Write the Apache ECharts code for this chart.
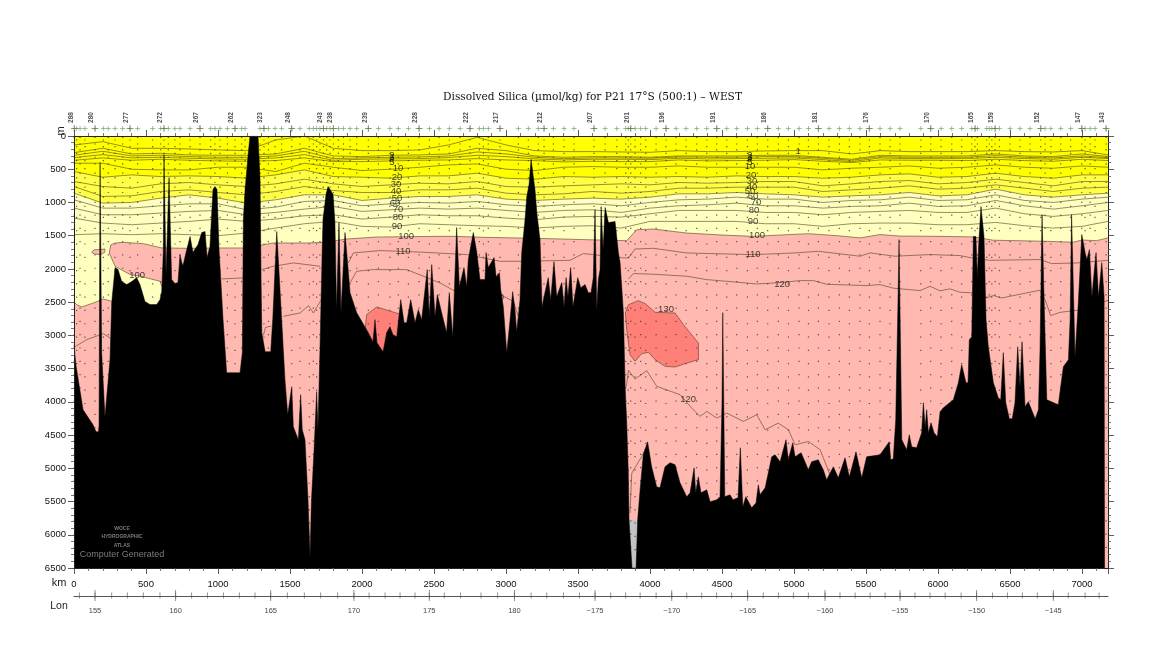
<!DOCTYPE html>
<html>
<head>
<meta charset="utf-8">
<title>Dissolved Silica P21</title>
<script src="https://cdn.jsdelivr.net/npm/echarts@6/dist/echarts.min.js"></script>
<style>html,body{margin:0;background:#fff}#main{width:1150px;height:650px}</style>
</head>
<body>
<div id="main"></div>
<script>
// sea floor, km along track and depth in m
const bathyKm = [0,14,63,132,153,170,174,181,188,192,215,227,250,262,285,306,331,366,401,435,458,493,528,574,597,609,620,625,632,639,649,660,667,678,701,722,736,748,757,783,806,826,861,887,910,924,944,965,979,993,1007,1035,1060,1153,1169,1176,1188,1208,1222,1278,1292,1299,1304,1327,1366,1380,1408,1442,1465,1484,1512,1523,1558,1574,1585,1604,1625,1639,1649,1667,1685,1694,1708,1722,1729,1750,1764,1778,1799,1812,1823,1840,1854,1882,1917,1963,2032,2076,2090,2104,2146,2171,2194,2215,2241,2269,2292,2310,2338,2368,2391,2414,2453,2467,2484,2507,2523,2553,2587,2606,2630,2657,2676,2708,2727,2738,2773,2797,2819,2854,2861,2877,2917,2931,2954,2963,2981,3005,3028,3046,3062,3074,3097,3109,3132,3144,3160,3174,3184,3201,3215,3236,3239,3250,3264,3293,3310,3333,3352,3387,3403,3417,3430,3449,3465,3498,3519,3549,3571,3590,3606,3618,3625,3630,3641,3653,3660,3667,3674,3688,3711,3757,3780,3792,3815,3827,3838,3849,3854,3875,3903,3914,3931,3953,3983,4011,4046,4069,4104,4139,4174,4208,4255,4278,4306,4317,4335,4354,4394,4417,4463,4486,4500,4505,4510,4519,4555,4576,4611,4627,4632,4644,4665,4706,4736,4752,4764,4799,4845,4868,4903,4944,4960,4991,5007,5049,5099,5122,5168,5203,5226,5273,5307,5354,5384,5430,5470,5504,5597,5661,5671,5689,5706,5722,5729,5735,5748,5782,5800,5817,5851,5886,5898,5910,5921,5933,5951,5972,5995,6014,6037,6106,6141,6164,6194,6208,6217,6234,6245,6263,6272,6284,6298,6305,6319,6333,6349,6384,6418,6435,6453,6470,6495,6515,6534,6553,6569,6583,6604,6627,6674,6697,6708,6722,6729,6736,6755,6835,6870,6905,6917,6927,6934,6951,6963,6974,6998,7021,7033,7051,7068,7097,7114,7137,7153,7156];
const bathyDepth = [3140,3456,4119,4345,4450,4450,4345,399,399,3260,4224,4224,3366,2507,1980,2010,2191,2236,2191,2131,2236,2492,2537,2537,2462,2342,1754,279,279,2086,2086,625,625,2161,2221,2206,1785,1905,1950,1709,1513,1754,1634,1453,1438,1830,1664,806,761,806,1709,2763,3562,3562,3260,1257,806,309,0,0,655,2161,2959,3245,3245,2763,1438,2763,3667,4194,3773,4375,4570,3893,4420,4570,5474,6333,5474,4721,3848,4420,3215,1860,1257,881,761,806,881,1303,2613,1303,2643,1453,2357,2658,2914,3095,2763,3110,3245,2959,2869,2989,3019,2462,2809,2809,2462,2809,2613,2763,2010,2718,1935,2718,2387,2658,2959,2357,3019,1378,2266,1980,2266,1860,1453,1754,2161,2161,1754,1980,1830,2116,2056,2312,2568,3260,2763,2342,2613,2944,2462,1754,1257,911,730,354,354,806,1182,1559,1754,2568,2417,2131,2462,1890,2417,2206,2568,2131,2417,1980,2568,2131,2282,2236,2357,2357,2131,1107,1107,2613,2161,2010,1062,1062,1709,1077,1303,1288,1754,1905,2658,3773,4315,5068,5775,6500,6500,5775,5323,4796,4601,4977,5279,5294,4977,4917,4947,5218,5429,5369,4992,5369,5128,5369,5324,5504,5474,5429,3968,2658,2658,5429,5399,5474,5444,4691,4691,5579,5429,5595,5520,5248,5399,5294,4827,4796,4902,4571,4872,4616,4827,4766,5023,4902,4872,5023,5173,4977,5143,4842,5128,4751,5143,4827,4797,4601,4872,4857,4270,2462,1559,1559,4570,4721,4495,4676,4691,4465,4013,4375,4119,4465,4315,4465,4525,4149,4089,3968,3712,3441,3712,3712,3065,3020,1514,1514,2116,1559,1062,1062,1514,2763,3170,3712,3938,3968,3260,4013,4254,4254,4013,3170,3773,3095,4073,3998,4254,4119,3215,1182,1182,2462,3968,4043,3471,3366,2763,1182,1182,3320,3320,2507,1483,1754,1860,1709,2417,1754,2417,1905,2417,6500];

// silica contours, sampled on one km grid (m)
const contourKm = [0,200,400,600,800,1000,1200,1400,1600,1800,2000,2200,2400,2600,2800,3000,3200,3400,3600,3800,4000,4200,4400,4600,4800,5000,5200,5400,5600,5800,6000,6200,6400,6600,6800,7000,7180];
const c1 = [135,85,185,185,195,210,220,60,0,185,220,220,210,135,20,135,220,235,235,240,245,220,235,235,225,220,220,270,220,235,235,235,220,235,240,220,285];
const c2 = [250,185,270,260,285,290,290,270,185,300,310,290,285,270,185,220,300,320,310,310,320,300,300,300,290,290,320,350,290,300,300,300,270,300,310,270,310];
const c3 = [290,230,300,290,310,320,320,300,230,340,330,320,315,300,240,270,320,340,330,330,335,315,320,320,310,310,335,365,310,320,320,320,295,320,330,300,325];
const c4 = [325,280,330,320,335,345,350,330,280,365,350,345,340,325,290,310,345,360,350,350,355,335,345,340,335,330,355,385,330,340,340,340,320,340,350,320,340];
const c5 = [365,330,365,350,365,375,380,370,330,385,385,375,365,360,340,360,370,390,380,385,385,360,375,370,365,355,380,400,360,365,365,370,350,370,380,350,370];
const c10 = [410,410,500,510,510,470,470,535,410,470,520,500,470,435,420,500,520,470,460,470,470,450,470,470,470,470,510,485,470,450,485,470,435,470,485,450,470];
const c20 = [535,620,585,610,600,610,635,585,510,610,620,635,600,600,560,635,650,610,620,610,620,610,620,600,610,610,635,620,585,570,620,610,560,610,635,585,585];
const c30 = [685,760,785,720,700,735,760,720,650,720,760,735,710,720,685,760,770,750,735,720,735,700,710,700,685,685,750,720,685,670,720,700,650,700,750,685,685];
const c40 = [760,910,900,835,810,850,885,835,760,820,850,850,810,810,785,860,885,870,835,860,835,785,785,770,770,770,835,810,785,750,800,785,735,785,835,785,770];
const c50 = [860,1010,1000,935,885,935,1010,960,885,885,970,935,910,910,885,950,970,950,935,950,920,870,870,850,870,885,920,900,885,850,900,885,800,885,920,885,860];
const c60 = [960,1085,1085,1050,1020,1020,1110,1070,985,970,1050,1020,1000,1010,985,1035,1060,1035,1020,1050,1000,960,950,920,950,950,1000,970,960,920,970,960,885,970,1000,950,920];
const c70 = [1085,1185,1185,1160,1135,1120,1185,1150,1100,1060,1135,1110,1085,1100,1085,1120,1150,1120,1110,1150,1085,1050,1035,1010,1050,1050,1085,1060,1050,1010,1060,1050,970,1050,1100,1050,1000];
const c80 = [1235,1310,1335,1310,1285,1250,1285,1250,1200,1185,1250,1220,1185,1200,1200,1235,1260,1220,1210,1220,1170,1120,1120,1120,1150,1150,1185,1150,1135,1120,1150,1150,1085,1170,1210,1170,1120];
const c90 = [1485,1470,1485,1470,1485,1500,1460,1385,1320,1285,1360,1370,1320,1335,1350,1360,1385,1360,1350,1385,1285,1285,1285,1285,1320,1320,1360,1320,1310,1310,1335,1335,1300,1350,1385,1360,1285];

// 100 contour, top of the pink water
const c100Km = [0,255,285,343,482,609,800,1012,1197,1304,1382,1613,1750,1891,2100,2300,2528,2635,2850,3097,3300,3560,3838,3908,4024,4255,4500,4718,4950,5100,5300,5458,5597,5730,6000,6245,6384,6731,6939,7000,7100,7180];
const c100Depth = [1640,1640,1610,1600,1620,1684,1690,1685,1685,1640,1610,1610,1600,1550,1520,1515,1510,1510,1525,1535,1545,1560,1575,1410,1400,1460,1490,1510,1485,1470,1500,1533,1483,1505,1510,1518,1568,1583,1598,1565,1575,1533];

// the rest of the contours are short pieces: [km, m]
const pocket100 = [[255,1640],[245,1760],[285,1960],[389,2085],[459,2110],[597,2186],[609,2261]];
const west100 = [[0,2500],[19,2537],[54,2572],[135,2512],[204,2452],[262,2487]];
const bubble100 = [[123,1750],[140,1710],[175,1710],[215,1700],[213,1750],[185,1785],[140,1775]];
const palePocket = [[0,1500],[240,1500],[255,1640],[245,1760],[285,1960],[389,2085],[459,2110],[597,2186],[609,2261],[612,3000],[300,3000],[262,2487],[204,2452],[135,2512],[54,2572],[19,2537],[0,2500]];
const west110 = [[0,3180],[30,3140],[88,3064],[204,2974],[250,3040]];
const mid110a = [[1026,2150],[1176,2135]];
const mid110b = [[1304,2010],[1385,1960],[1524,1910],[1709,1960]];
const main110 = [[1905,1910],[1940,1759],[2125,1724],[2426,1749],[2727,1784],[2958,1885],[3120,1885],[3444,1870],[3537,1769],[3815,1834],[3850,1835],[3896,1700],[4024,1690],[4255,1760],[4718,1785],[5000,1760],[5169,1735],[5458,1809],[5527,1759],[5700,1809],[5944,1784],[6152,1799],[6235,1835],[6360,1870],[6708,1859],[6789,1920],[6963,1910],[7180,1870]];
const west120 = [[1454,2713],[1570,2663],[1628,2552],[1662,2663],[1720,2452]];
const main120a = [[1916,2211],[1963,2035],[2078,2010],[2310,2010],[2426,2110],[2542,2211],[2634,2321],[2958,2386],[3051,2487],[3085,2713]];
const main120b = [[3850,2150],[3885,2070],[4024,2080],[4255,2110],[4394,2161],[4533,2186],[4741,2226],[4880,2210],[5042,2176],[5135,2176],[5227,2231],[5505,2251],[5597,2236],[5690,2290],[5875,2326],[5944,2261],[6014,2330],[6083,2300],[6152,2351],[6250,2361],[6338,2437],[6384,2400],[6442,2437],[6615,2361],[6708,2321],[6743,2462],[6782,2703],[6847,2653],[6963,2623],[7183,2472]];
const deep120 = [[3835,3770],[3850,3526],[3896,3657],[3977,3531],[4047,3767],[4209,3893],[4290,4094],[4347,4219],[4394,4144],[4463,4244],[4533,4169],[4648,4294],[4741,4194],[4799,4420],[4891,4320],[4961,4420],[5007,4646],[5100,4596],[5181,4721],[5250,5098]];
const low120 = [[3861,5675],[3873,5073],[3942,4822],[3970,4700]];
const small110 = [[1315,3000],[1330,2880],[1370,2860]];
const red130 = [[3829,2663],[3850,2538],[3919,2477],[3966,2522],[4035,2653],[4174,2663],[4232,2839],[4336,3115],[4336,3366],[4255,3416],[4174,3476],[4105,3466],[4035,3366],[3989,3255],[3942,3275],[3896,3391],[3861,3291],[3838,2914]];
const redWest130 = [[2032,2688],[2102,2572],[2275,2688],[2290,3300],[2040,3300],[2020,2950]];
const greyFloor = [[3850,5775],[3920,5775],[3920,6500],[3850,6500]];

// contour labels
const labelKm = [2208,2208,2208,2208,2250,2243,2236,2236,2243,2229,2250,2250,2243,2306,2285,4694,4694,4694,4694,4694,4701,4708,4708,4694,4715,4736,4722,4715,4743,4715,5028,438,4917,4264,4111];
const labelDepth = [294,324,354,399,489,625,730,836,941,1017,1107,1227,1363,1514,1740,294,324,354,399,459,587,685,768,836,911,1002,1122,1288,1499,1785,233,2103,2229,3969,2605];
const labelText = ['2','3','4','5','10','20','30','40','50','60','70','80','90','100','110','2','3','4','5','10','20','30','40','50','60','70','80','90','100','110','1','100','120','120','130'];

// atlas stamp in the sea floor
const stampLines = ['WOCE', 'HYDROGRAPHIC', 'ATLAS'];
const stampDepth = [5904, 6031, 6167];

// stations along the top
const stationKm = [2,18,42,76,146,204,238,285,338,389,442,546,602,625,655,701,736,806,875,949,979,1014,1065,1118,1164,1188,1292,1319,1350,1396,1442,1512,1569,1634,1662,1685,1708,1732,1755,1778,1801,1836,1871,1917,1963,2044,2114,2194,2252,2322,2396,2468,2535,2606,2681,2750,2815,2843,2877,2958,3086,3155,3224,3264,3329,3403,3472,3611,3688,3769,3831,3849,3866,3896,3935,3970,4042,4111,4181,4250,4324,4394,4463,4533,4602,4676,4745,4817,4891,4961,5035,5100,5169,5243,5315,5384,5458,5523,5597,5667,5736,5880,5949,6021,6095,6164,6234,6257,6273,6338,6356,6373,6396,6426,6500,6569,6639,6713,6743,6783,6852,6921,6998,7021,7056,7090,7167];
const namedStationKm = [2,146,389,625,875,1118,1319,1512,1732,1801,2044,2396,2750,2958,3264,3611,3866,4111,4463,4817,5169,5523,5949,6257,6396,6713,6998,7167];
const namedStations = ['288','280','277','272','267','262','323','248','243','238','239','228','222','217','212','207','201','196','191','186','181','176','170','165','159','152','147','143'];

// bottle depths, stations alternate between the two lists
const bottlesA = [20,120,210,320,420,560,700,850,1000,1190,1390,1590,1790,1990,2190,2390,2590,2790,2990,3190,3390,3590,3790,3990,4190,4390,4590,4790,4990,5190,5390,5590,5790,5990,6190];
const bottlesB = [60,160,260,370,490,630,770,920,1060,1225,1425,1625,1825,2025,2225,2425,2625,2825,3025,3225,3425,3625,3825,4025,4225,4425,4625,4825,5025,5225,5425,5625,5825,6025,6225];

// longitude axis
const lonKm = [37,146,262,370,481,597,706,817,926,1037,1148,1257,1366,1481,1599,1713,1831,1944,2049,2160,2264,2368,2467,2571,2685,2826,2942,3058,3174,3283,3398,3509,3618,3727,3831,3931,4042,4151,4255,4359,4463,4567,4678,4786,4891,4995,5099,5215,5319,5424,5528,5632,5736,5840,5944,6049,6160,6268,6377,6481,6585,6689,6800,6904,7021,7118];
const lonMajorKm = [146,706,1366,1944,2467,3058,3618,4151,4678,5215,5736,6268,6800];
const lonLabels = ['155','160','165','170','175','180','\u2212175','\u2212170','\u2212165','\u2212160','\u2212155','\u2212150','\u2212145'];

const FONT = '"Liberation Sans"';
const LINE = 'rgba(70,55,25,0.8)';

const chart = echarts.init(document.getElementById('main'));

function zip(xs, ys) {
  return xs.map(function (x, i) { return [x, ys[i]]; });
}

function areaSeries(data, color, z) {
  return {
    type: 'line', data: data, z: z, silent: true, symbol: 'none',
    lineStyle: { width: 0 },
    areaStyle: { color: color, opacity: 1, origin: 'end' }
  };
}

function contourLine(data, z) {
  return {
    type: 'line', data: data, z: z || 6, silent: true, symbol: 'none',
    lineStyle: { color: LINE, width: 0.7 }
  };
}

function polygonSeries(pts, color, z, stroke) {
  return {
    type: 'custom', coordinateSystem: 'cartesian2d', z: z, silent: true,
    data: [pts[0]],
    renderItem: function (params, api) {
      return {
        type: 'polygon',
        shape: { points: pts.map(function (p) { return api.coord(p); }) },
        style: { fill: color, stroke: stroke || null, lineWidth: 0.7 }
      };
    }
  };
}

function textSeries(data, z, size, color, weight) {
  return {
    type: 'scatter', data: data, z: z, silent: true, symbolSize: 0,
    label: {
      show: true, position: 'inside', formatter: function (p) { return p.value[2]; },
      fontFamily: FONT, fontSize: size, color: color, fontWeight: weight || 'normal'
    }
  };
}

const dots = [];
stationKm.forEach(function (km, i) {
  (i % 2 ? bottlesB : bottlesA).forEach(function (d) { dots.push([km, d]); });
});

const series = [
  areaSeries(zip(contourKm, c20), '#ffff48', 2),
  areaSeries(zip(contourKm, c50), '#ffffc0', 2.1),
  areaSeries(zip(c100Km, c100Depth), '#ffb9b0', 2.2),
  polygonSeries(palePocket, '#ffffc0', 2.3),
  polygonSeries(bubble100, '#ffb9b0', 2.4, LINE),
  polygonSeries(red130, '#ff8078', 2.5, LINE),
  polygonSeries(redWest130, '#ff8078', 2.5, LINE),
  polygonSeries(greyFloor, '#c4c4c4', 2.6),
  {
    type: 'scatter', data: dots, z: 5, silent: true, symbol: 'rect', symbolSize: 1.2,
    itemStyle: { color: '#333' }
  }
];
[c1, c2, c3, c4, c5, c10, c20, c30, c40, c50, c60, c70, c80, c90].forEach(function (c) {
  series.push(contourLine(zip(contourKm, c)));
});
series.push(contourLine(zip(c100Km, c100Depth).slice(1)));
[pocket100, west100, west110, mid110a, mid110b, main110, west120, main120a, main120b, deep120, low120, small110].forEach(function (c) {
  series.push(contourLine(c));
});

// a 120 label mostly hidden behind the ridge
series.push(textSeries([[2931, 2432, '120']], 7, 9.5, '#111'));

series.push({
  type: 'line', data: zip(bathyKm, bathyDepth), z: 10, silent: true, symbol: 'none',
  lineStyle: { color: '#000', width: 0.5 },
  areaStyle: { color: '#000', opacity: 1, origin: 'end' }
});

series.push(textSeries(labelKm.map(function (km, i) { return [km, labelDepth[i], labelText[i]]; }), 12, 9.5, '#111'));
series.push(textSeries(stampLines.map(function (t, i) { return [333, stampDepth[i], t]; }), 12, 5, '#9a9a9a', 'bold'));
series.push(textSeries([[333, 6303, 'Computer Generated']], 12, 9, '#9a9a9a'));

// stations
series.push({
  type: 'scatter', xAxisIndex: 2, yAxisIndex: 2, silent: true,
  data: stationKm.map(function (km) { return [km, 0.5]; }),
  symbol: 'path://M5 0V10M0 5H10', symbolSize: 5,
  itemStyle: { color: 'none', borderColor: '#5fa35f', borderWidth: 0.8 }
});
series.push({
  type: 'scatter', xAxisIndex: 2, yAxisIndex: 2, silent: true,
  data: namedStationKm.map(function (km, i) { return [km, 0.5, namedStations[i]]; }),
  symbol: 'path://M5 0V10M0 5H10', symbolSize: 7,
  itemStyle: { color: 'none', borderColor: '#6d7044', borderWidth: 0.8 },
  label: {
    show: true, position: 'top', distance: 5, rotate: 90,
    formatter: function (p) { return p.value[2]; },
    fontFamily: FONT, fontSize: 6.5, fontWeight: 'bold', color: '#222'
  }
});

// longitude ticks
series.push({
  type: 'scatter', xAxisIndex: 3, yAxisIndex: 3, silent: true,
  data: lonKm.map(function (km) { return [km, 0.5]; }),
  symbol: 'rect', symbolSize: [0.8, 6], itemStyle: { color: '#555' }
});
series.push({
  type: 'scatter', xAxisIndex: 3, yAxisIndex: 3, silent: true,
  data: lonMajorKm.map(function (km, i) { return [km, 0.5, lonLabels[i]]; }),
  symbol: 'rect', symbolSize: [0.8, 11], itemStyle: { color: '#555' },
  label: {
    show: true, position: 'bottom', distance: 6,
    formatter: function (p) { return p.value[2]; },
    fontFamily: FONT, fontSize: 7.5, color: '#111'
  }
});

function plain(v) {
  return String(v);
}

function depthAxis(pos, showLabel) {
  return {
    type: 'value', position: pos, inverse: true, min: 0, max: 6500, interval: 500,
    gridIndex: 0, z: 20, splitLine: { show: false },
    axisLine: { show: true, onZero: false, lineStyle: { color: '#222', width: 1 } },
    axisTick: { show: true, length: 6, lineStyle: { color: '#333', width: 0.8 } },
    minorTick: { show: true, splitNumber: 5, length: 3, lineStyle: { color: '#555', width: 0.8 } },
    axisLabel: { show: showLabel, formatter: plain, fontFamily: FONT, fontSize: 9.5, color: '#111', margin: 8 }
  };
}

function kmAxis(pos, showLabel) {
  return {
    type: 'value', position: pos, min: 0, max: 7180, interval: 500, gridIndex: 0, z: 20,
    splitLine: { show: false },
    axisLine: { show: true, onZero: false, lineStyle: { color: '#222', width: 1 } },
    axisTick: { show: true, length: 6, lineStyle: { color: '#333', width: 0.8 } },
    minorTick: { show: true, splitNumber: 5, length: 3, lineStyle: { color: '#555', width: 0.8 } },
    axisLabel: { show: showLabel, showMaxLabel: false, formatter: plain, fontFamily: FONT, fontSize: 9.5, color: '#111', margin: 11 }
  };
}

function stripAxis(grid, lineOn) {
  return {
    type: 'value', gridIndex: grid, min: 0, max: 7180, splitLine: { show: false },
    axisLine: { show: lineOn, onZero: false, lineStyle: { color: '#555', width: 1.2 } },
    axisTick: { show: false }, axisLabel: { show: false }
  };
}

function hiddenY(grid) {
  return { type: 'value', gridIndex: grid, min: 0, max: 1, show: false };
}

function note(text, x, y, size, rotation) {
  return {
    type: 'text', x: x, y: y, silent: true, rotation: rotation || 0,
    style: { text: text, fontFamily: FONT, fontSize: size, fill: '#222', align: 'center', verticalAlign: 'middle' }
  };
}

chart.setOption({
  animation: false,
  backgroundColor: '#fff',
  title: {
    text: 'Dissolved Silica (\u00b5mol/kg) for P21 17\u00b0S (500:1) \u2013 WEST',
    left: 443, top: 92, padding: 0,
    textStyle: { fontFamily: '"DejaVu Serif"', fontSize: 10.6, fontWeight: 'normal', color: '#111' }
  },
  grid: [
    { left: 74, top: 136, width: 1034, height: 432, show: true, backgroundColor: '#ffff00', borderWidth: 0 },
    { left: 74, top: 128, width: 1034, height: 1 },
    { left: 74, top: 128, width: 1034, height: 1 },
    { left: 74, top: 595, width: 1034, height: 1 }
  ],
  xAxis: [kmAxis('bottom', true), kmAxis('top', false), stripAxis(2, false), stripAxis(3, true)],
  yAxis: [depthAxis('left', true), depthAxis('right', false), hiddenY(2), hiddenY(3)],
  series: series,
  graphic: [
    note('m', 61, 131, 11, Math.PI / 2),
    note('km', 59, 583, 11),
    note('Lon', 59, 606, 10.5)
  ]
});
</script>
</body>
</html>
